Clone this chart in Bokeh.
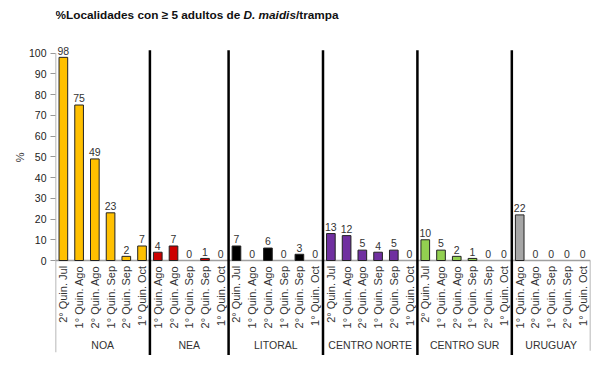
import math
from bokeh.plotting import figure
from bokeh.models import Range1d, FixedTicker, Title, ColumnDataSource
from bokeh.core.properties import value
from bokeh.embed import file_html
from bokeh.resources import INLINE

# ---- data ----
groups = ["NOA", "NEA", "LITORAL", "CENTRO NORTE", "CENTRO SUR", "URUGUAY"]
noa_cats = ["2° Quin. Jul", "1° Quin. Ago", "2° Quin. Ago", "1° Quin. Sep", "2° Quin. Sep", "1° Quin. Oct"]
noa_vals = [98, 75, 49, 23, 2, 7]
nea_cats = ["1° Quin. Ago", "2° Quin. Ago", "1° Quin. Sep", "2° Quin. Sep", "1° Quin. Oct"]
nea_vals = [4, 7, 0, 1, 0]
lit_cats = ["2° Quin. Jul", "1° Quin. Ago", "2° Quin. Ago", "1° Quin. Sep", "2° Quin. Sep", "1° Quin. Oct"]
lit_vals = [7, 0, 6, 0, 3, 0]
cn_cats = ["2° Quin. Jul", "1° Quin. Ago", "2° Quin. Ago", "1° Quin. Sep", "2° Quin. Sep", "1° Quin. Oct"]
cn_vals = [13, 12, 5, 4, 5, 0]
cs_cats = ["2° Quin. Jul", "1° Quin. Ago", "2° Quin. Ago", "1° Quin. Sep", "2° Quin. Sep", "1° Quin. Oct"]
cs_vals = [10, 5, 2, 1, 0, 0]
uy_cats = ["1° Quin. Ago", "2° Quin. Ago", "1° Quin. Sep", "2° Quin. Sep", "1° Quin. Oct"]
uy_vals = [22, 0, 0, 0, 0]
group_colors = ["#FFC000", "#CC0000", "#000000", "#7030A0", "#92D050", "#A6A6A6"]
y_ticks = [0, 10, 20, 30, 40, 50, 60, 70, 80, 90, 100]

all_cats = [noa_cats, nea_cats, lit_cats, cn_cats, cs_cats, uy_cats]
all_vals = [noa_vals, nea_vals, lit_vals, cn_vals, cs_vals, uy_vals]

FONT = "Liberation Sans"

# ---- build source ----
xs, tops, cats, fills, lines, labels = [], [], [], [], [], []
bounds = [0]
group_centers = []
i = 0
for g, (cl, vl) in enumerate(zip(all_cats, all_vals)):
    start = i
    for c, v in zip(cl, vl):
        xs.append(i + 0.5)
        tops.append(v)
        cats.append(c)
        fills.append(group_colors[g])
        lines.append("#222222" if v > 0 else None)
        labels.append(str(v))
        i += 1
    bounds.append(i)
    group_centers.append((start + i) / 2)
N = i

src = ColumnDataSource(dict(x=xs, top=tops, cat=cats, fill=fills, line=lines, lab=labels,
                            laby=[t + 1.3 for t in tops]))

W, H = 600, 373
PPU = 2.073          # pixels per % unit
Y0 = 260             # pixel row of 0
p = figure(width=W, height=H, output_backend="svg", toolbar_location=None,
           x_range=Range1d(0, N), y_range=Range1d(-(H - Y0) / PPU, Y0 / PPU),
           min_border_left=55, min_border_right=10, min_border_top=0, min_border_bottom=0)
p.outline_line_color = None
p.grid.visible = False
p.xaxis.visible = False
p.background_fill_color = "white"

ya = p.yaxis[0]
ya.ticker = FixedTicker(ticks=y_ticks)
ya.axis_line_color = None
ya.major_tick_line_color = "#999999"
ya.major_tick_out = 5
ya.major_tick_in = 0
ya.minor_tick_line_color = None
ya.major_label_standoff = 4
ya.major_label_text_font = FONT
ya.major_label_text_font_size = "10.5px"
ya.major_label_text_color = "#222222"

# y axis label "%" as a side title, placed at the middle of 0..100
p.add_layout(Title(text="%", align="right", offset=152, text_font=FONT,
                   text_font_size="11px", text_font_style="normal",
                   text_color="#333333", standoff=0), "left")

# axis lines
p.segment(x0=[0], y0=[100], x1=[0], y1=[-44.3], line_color="#A0A0A0", line_width=1.5)
p.segment(x0=[N], y0=[0], x1=[N], y1=[-43.5], line_color="#A0A0A0", line_width=1.5)
p.segment(x0=[0], y0=[0], x1=[N], y1=[0], line_color="#A0A0A0", line_width=1.5)

# bars
p.vbar(x="x", top="top", bottom=0, width=0.55, source=src, fill_color="fill",
       line_color="line", line_width=1)

# separators
inner = bounds[1:-1]
p.segment(x0=inner, y0=[101.4] * len(inner), x1=inner, y1=[-45.6] * len(inner),
          line_color="black", line_width=2.5)

# value labels
p.text(x="x", y="laby", text="lab", source=src, text_align="center", text_baseline="bottom",
       text_font=value(FONT), text_font_size="10.5px", text_color="#333333")

# category labels
p.text(x="x", y=-2.6, text="cat", source=src, angle=math.pi / 2, text_align="right",
       text_baseline="middle", text_font=value(FONT), text_font_size="11px", text_color="#333333")

# group labels
p.text(x=group_centers, y=[-41] * len(groups), text=groups, text_align="center",
       text_baseline="middle", text_font=value(FONT), text_font_size="10.5px", text_color="#333333")

# title (mixed styles)
px = N / 535.0
ty = (Y0 - 14) / PPU
TFS = "11.8px"
p.text(x=[0], y=[ty], text=["%Localidades con ≥ 5 adultos de"], text_align="left",
       text_baseline="middle", text_font=value(FONT), text_font_size=TFS,
       text_font_style="bold", text_color="#111111")
p.text(x=[188 * px], y=[ty], text=["D. maidis"], text_align="left",
       text_baseline="middle", text_font=value(FONT), text_font_size=TFS,
       text_font_style="bold italic", text_color="#111111")
p.text(x=[240.5 * px], y=[ty], text=["/trampa"], text_align="left",
       text_baseline="middle", text_font=value(FONT), text_font_size=TFS,
       text_font_style="bold", text_color="#111111")

open("out.html", "w").write(file_html(p, INLINE))
